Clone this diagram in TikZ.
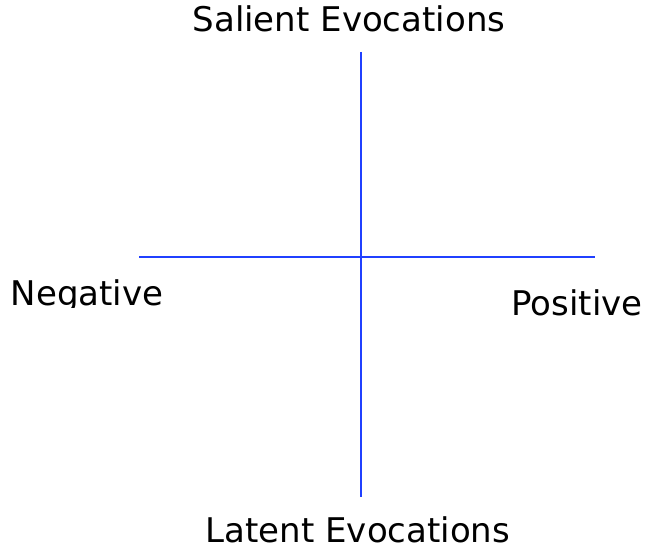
\documentclass[tikz,border=0pt]{standalone}
\usepackage{fontspec}
\setmainfont{DejaVu Sans}
\usepackage{xcolor}
\usepackage{tikz}
\definecolor{axisblue}{RGB}{32,64,255}

\begin{document}
\begin{tikzpicture}[x=1pt, y=-1pt,
    axis/.style={draw=axisblue, line width=2pt},
    lbl/.style={anchor=base, inner sep=0pt, font=\fontsize{34}{40}\selectfont}]
    			\useasboundingbox (0,0) rectangle (647,548);
    			\coordinate (T) at (361,52);
    			\coordinate (B) at (361,497);
    			\coordinate (L) at (139,257);
    			\coordinate (R) at (595,257);
    			
    			\draw[axis] (T) -- (B);
    			\draw[axis] (L) -- (R);
    			\foreach \x/\y/\name/\label in {
    				349/32/sal/Salient Evocations,
    				577/315/pos/Positive,
    				358/542/lat/Latent Evocations
    			}{
    				\node[lbl] (\name) at (\x,\y) {\label};
    			}
    			\begin{scope}
    				\clip (0,270) rectangle (200,307);
    				\node[lbl] (neg) at (87,305) {Negative};
    			\end{scope}
    		\end{tikzpicture}
\end{document}
